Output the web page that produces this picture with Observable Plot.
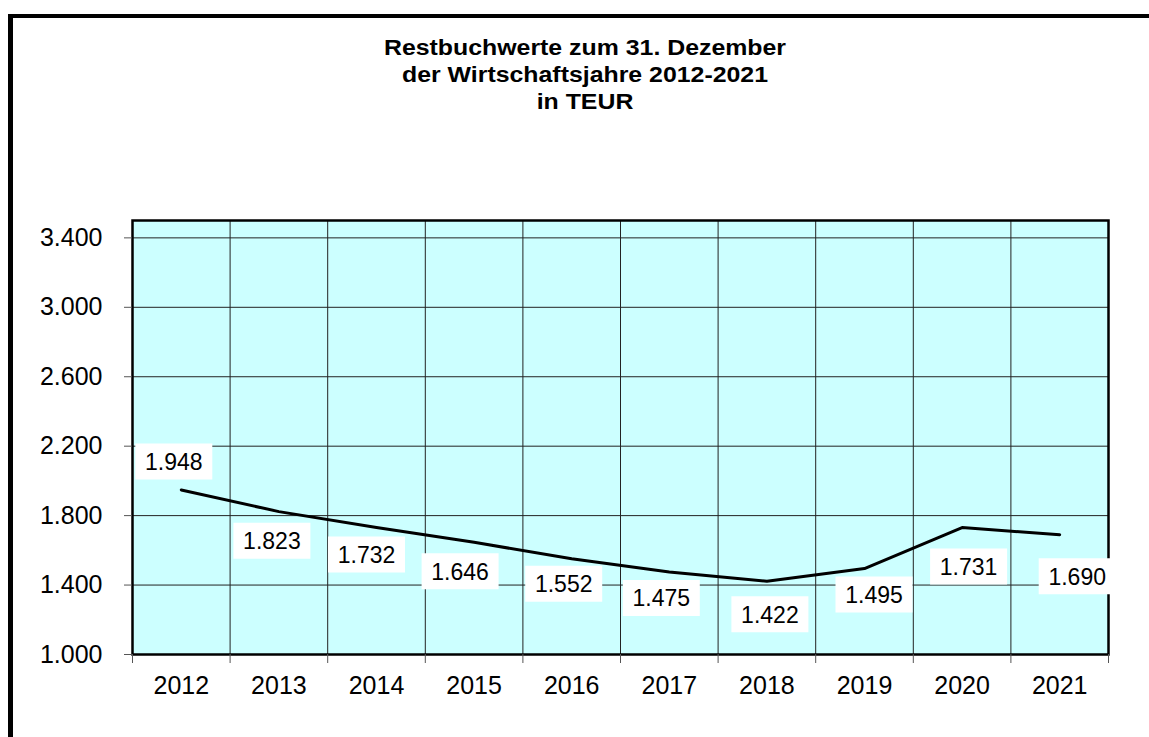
<!DOCTYPE html>
<html><head><meta charset="utf-8">
<script src="https://cdn.jsdelivr.net/npm/d3@7"></script>
<script src="https://cdn.jsdelivr.net/npm/@observablehq/plot@0.6"></script>
<style>
body{margin:0;background:#fff;font-family:"Liberation Sans",Arial,sans-serif;}
#wrap{position:relative;width:1149px;height:737px;overflow:hidden;}
#chart{position:absolute;left:0;top:0;}
#frameL{position:absolute;left:8px;top:14px;width:5px;height:723px;background:#000;}
#frameT{position:absolute;left:8px;top:14px;width:1141px;height:4px;background:#000;}
#title{position:absolute;left:0;top:34px;width:1170px;text-align:center;font-weight:bold;font-size:22px;line-height:27px;color:#000;transform:scaleX(1.13);transform-origin:585px 0;}
</style></head>
<body>
<div id="wrap">
  <div id="chart"></div>
  <div id="frameL"></div>
  <div id="frameT"></div>
  <div id="title">Restbuchwerte zum 31. Dezember<br>der Wirtschaftsjahre 2012-2021<br>in TEUR</div>
</div>
<script>
// ---- data ----
const years = [2012, 2013, 2014, 2015, 2016, 2017, 2018, 2019, 2020, 2021];
const values = [1948, 1823, 1732, 1646, 1552, 1475, 1422, 1495, 1731, 1690];
const yTicks = [1000, 1400, 1800, 2200, 2600, 3000, 3400];
const yDomain = [1000, 3500];

// ---- layout (label box offsets in px, relative to the point) ----
const labelDx = [-7.5, -7, -10, -14, -8, -8, 3, 9.5, 6.5, 17.5];
const labelDy = [-28.5, 29, 27, 29, 25, 26, 33, 26, 39, 41.5];

const de = d3.formatLocale({decimal: ",", thousands: ".", grouping: [3], currency: ["", "€"]});
const fmt = de.format(",d");

const data = years.map((y, i) => ({year: y, value: values[i]}));
const boundaries = years.map(y => y - 0.5).concat([years[years.length - 1] + 0.5]);

const boxSymbol = {draw(ctx) { ctx.rect(-38.5, -18, 77, 36); }};

const labelMarks = data.flatMap((d, i) => [
  Plot.dot([d], {x: "year", y: "value", symbol: boxSymbol, fill: "white", stroke: "none", dx: labelDx[i], dy: labelDy[i]}),
  Plot.text([d], {x: "year", y: "value", text: d => fmt(d.value), fontSize: 23, fill: "black", dx: labelDx[i], dy: labelDy[i] + 1})
]);

const chart = Plot.plot({
  width: 1149,
  height: 737,
  marginLeft: 132,
  marginRight: 41,
  marginTop: 220,
  marginBottom: 83,
  style: {fontFamily: "'Liberation Sans', Arial, sans-serif", background: "transparent", color: "black"},
  x: {type: "linear", domain: [years[0] - 0.5, years[years.length - 1] + 0.5], axis: null, label: null},
  y: {domain: yDomain, axis: null, label: null},
  marks: [
    Plot.frame({fill: "#ccffff", stroke: "none"}),
    Plot.ruleY(yTicks, {stroke: "#222", strokeWidth: 1}),
    Plot.ruleX(boundaries, {stroke: "#222", strokeWidth: 1}),
    Plot.line(data, {x: "year", y: "value", stroke: "black", strokeWidth: 3}),
    Plot.frame({stroke: "black", strokeWidth: 2.5}),
    Plot.axisY(yTicks, {label: null, tickSize: 8, stroke: "#555", tickFormat: () => ""}),
    Plot.axisY(yTicks, {label: null, tickSize: 0, tickPadding: 30, tickFormat: fmt, fontSize: 25, fill: "black"}),
    Plot.axisX(boundaries, {label: null, tickSize: 9, stroke: "#555", tickFormat: () => ""}),
    Plot.axisX(years, {label: null, tickSize: 0, tickPadding: 22, tickFormat: d => String(d), fontSize: 25, fill: "black"}),
    ...labelMarks
  ]
});
document.getElementById("chart").appendChild(chart);
</script>
</body></html>
